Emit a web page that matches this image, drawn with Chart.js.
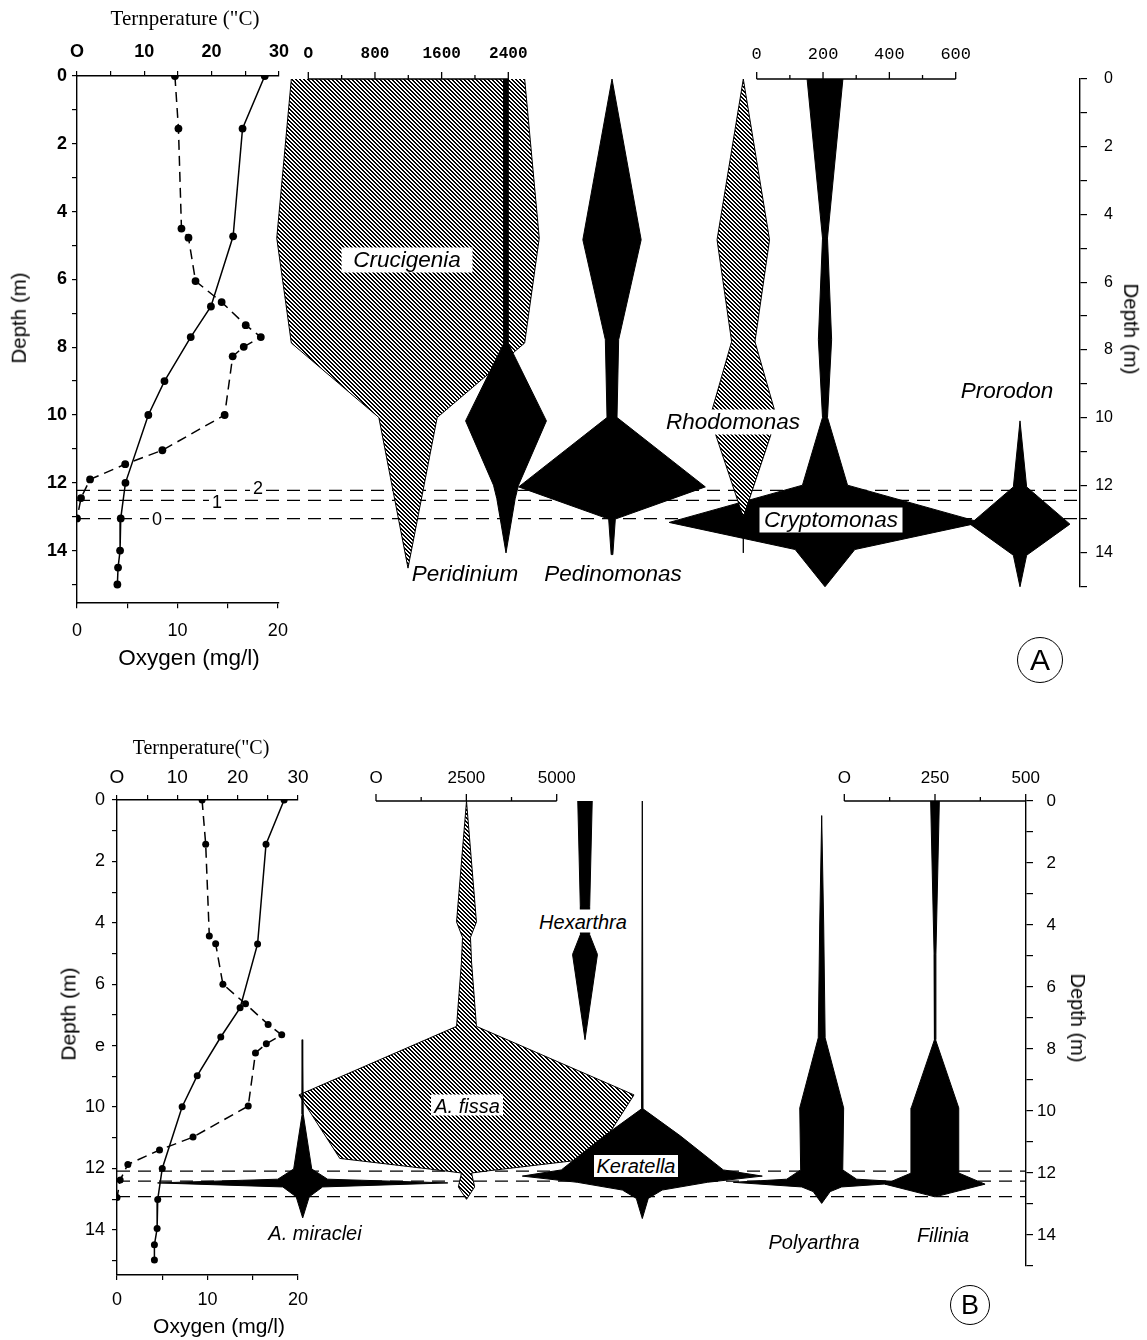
<!DOCTYPE html>
<html>
<head>
<meta charset="utf-8">
<title>Depth profiles and kite diagrams</title>
<script src="https://cdn.jsdelivr.net/npm/chart.js@4.4.1/dist/chart.umd.min.js"></script>
<style>
  body { margin: 0; background: #fff; }
  #page { position: relative; width: 1147px; height: 1340px; overflow: hidden; background: #fff;
          font-family: "Liberation Sans", Arial, sans-serif; color: #000; }
  #page canvas { position: absolute; left: 0; }
  .sp { position: absolute; transform: translate(-50%, -50%); font-style: italic; white-space: nowrap;
        line-height: 1; text-align: center; }
  .box { background: #fff; display: flex; align-items: center; justify-content: center; }
  .ttl { position: absolute; transform: translate(-50%, -50%); white-space: nowrap; line-height: 1; }
  .serif { font-family: "Liberation Serif", "Times New Roman", serif; }
  .rl { transform: translate(-50%, -50%) rotate(-90deg); }
  .rr { transform: translate(-50%, -50%) rotate(90deg); }
  .iso { position: absolute; transform: translate(-50%, -50%); background: #fff; font-size: 18px;
         line-height: 1; padding: 0 3px; }
  .tag { position: absolute; border: 1.6px solid #000; border-radius: 50%; box-sizing: border-box;
         display: flex; align-items: center; justify-content: center; transform: translate(-50%, -50%); }
</style>
</head>
<body>
<div id="page">
  <canvas id="profA" width="300" height="700" style="top:0"></canvas>
  <canvas id="kiteA" width="1147" height="700" style="top:0"></canvas>
  <canvas id="profB" width="320" height="620" style="top:720px"></canvas>
  <canvas id="kiteB" width="1147" height="620" style="top:720px"></canvas>

  <!-- panel A axis titles -->
  <div class="ttl serif" style="left:185px;top:18px;font-size:21px">Ternperature ("C)</div>
  <div class="ttl" style="left:189px;top:658px;font-size:22.5px">Oxygen (mg/l)</div>
  <div class="ttl rl" style="left:19px;top:318px;font-size:20.5px">Depth (m)</div>
  <div class="ttl rr" style="left:1131px;top:329px;font-size:20.5px">Depth (m)</div>

  <!-- panel A species labels -->
  <div class="sp box" style="left:407px;top:260px;width:131px;height:25px;font-size:22.5px">Crucigenia</div>
  <div class="sp" style="left:465px;top:574px;font-size:22.5px">Peridinium</div>
  <div class="sp" style="left:613px;top:574px;font-size:22.5px">Pedinomonas</div>
  <div class="sp box" style="left:733px;top:422px;width:134px;height:25px;font-size:22.5px">Rhodomonas</div>
  <div class="sp box" style="left:831px;top:520px;width:143px;height:25px;font-size:22.5px">Cryptomonas</div>
  <div class="sp" style="left:1007px;top:391px;font-size:22.5px">Prorodon</div>
  <div class="iso" style="left:258px;top:488px">2</div>
  <div class="iso" style="left:217px;top:502px">1</div>
  <div class="iso" style="left:157px;top:519px">0</div>
  <div class="tag" style="left:1040px;top:660px;width:46px;height:46px;font-size:30px">A</div>

  <!-- panel B axis titles -->
  <div class="ttl serif" style="left:201px;top:747px;font-size:20px">Ternperature("C)</div>
  <div class="ttl" style="left:219px;top:1325px;font-size:21px">Oxygen (mg/l)</div>
  <div class="ttl rl" style="left:68px;top:1014px;font-size:21px">Depth (m)</div>
  <div class="ttl rr" style="left:1078px;top:1018px;font-size:20px">Depth (m)</div>

  <!-- panel B species labels -->
  <div class="sp" style="left:315px;top:1233px;font-size:20px">A. miraclei</div>
  <div class="sp box" style="left:467px;top:1105px;width:72px;height:21px;font-size:20px">A. fissa</div>
  <div class="sp box" style="left:583px;top:921px;width:88px;height:23px;font-size:20px">Hexarthra</div>
  <div class="sp box" style="left:636px;top:1166px;width:84px;height:22px;font-size:20px">Keratella</div>
  <div class="sp" style="left:814px;top:1242px;font-size:20px">Polyarthra</div>
  <div class="sp" style="left:943px;top:1235px;font-size:20px">Filinia</div>
  <div class="tag" style="left:970px;top:1305px;width:40px;height:40px;font-size:27px">B</div>
</div>

<script>
// ---------------- Panel A : temperature / oxygen profiles ----------------
const depthTempA = [0, 1.55, 4.73, 6.8, 7.7, 9.0, 10.0, 12.0, 13.05, 14.0, 14.5, 15.0];
const tempA      = [27.9, 24.6, 23.2, 19.9, 16.9, 13.0, 10.6, 7.2, 6.5, 6.4, 6.1, 6.0];
const depthOxyA  = [0, 1.55, 4.5, 4.77, 6.05, 6.67, 7.35, 7.7, 7.99, 8.27, 10.0, 11.04, 11.45, 11.9, 12.45, 13.05];
const oxyA       = [9.75, 10.1, 10.4, 11.1, 11.8, 14.4, 16.8, 18.3, 16.6, 15.5, 14.7, 8.5, 4.8, 1.3, 0.4, 0];
const isolinesA  = [12.15, 12.45, 12.99];

// ---------------- Panel A : kites (cells) ----------------
const crucigeniaDepth  = [0, 4.7, 7.8, 10.0, 14.45];
const crucigeniaCells  = [2800, 3150, 2800, 700, 0];
const peridiniumDepth  = [0, 7.8, 10.1, 12.0, 12.4, 14.0];
const peridiniumCells  = [55, 50, 970, 300, 220, 0];
const pedinomonasDepth = [0, 4.75, 7.7, 10.0, 12.05, 13.0, 14.05];
const pedinomonasCells = [0, 700, 160, 120, 2240, 80, 20];
const rhodomonasDepth  = [0, 4.75, 7.76, 10.0, 12.95, 14.0];
const rhodomonasCells  = [0, 630, 280, 800, 0, 0];
const cryptomonasDepth = [0, 4.7, 7.7, 10.0, 12.0, 13.1, 13.9, 15.0];
const cryptomonasCells = [108, 15, 40, 15, 136, 940, 180, 0];
const prorodonDepth    = [10.1, 12.05, 13.15, 14.07, 15.0];
const prorodonCells    = [0, 40, 301, 40, 0];

// ---------------- Panel B : temperature / oxygen profiles ----------------
const depthTempB = [0, 1.44, 4.69, 6.77, 7.72, 8.98, 9.99, 12.0, 13.01, 13.96, 14.49, 14.98];
const tempB      = [27.7, 24.7, 23.3, 20.4, 17.2, 13.3, 10.8, 7.5, 6.75, 6.65, 6.2, 6.2];
const depthOxyB  = [0, 1.44, 4.43, 4.68, 6.0, 6.64, 7.31, 7.65, 7.94, 8.24, 9.97, 10.98, 11.4, 11.87, 12.38, 12.95];
const oxyB       = [9.4, 9.8, 10.2, 10.9, 11.7, 14.2, 16.7, 18.2, 16.5, 15.3, 14.5, 8.4, 4.7, 1.2, 0.35, 0];
const isolinesB  = [11.94, 12.26, 12.76];

// ---------------- Panel B : kites (individuals) ----------------
const miracleiDepth   = [7.7, 10.1, 11.87, 12.2, 12.32, 12.45, 12.77, 13.45];
const miracleiInd     = [0, 30, 500, 1380, 8030, 1100, 360, 0];
const fissaDepth      = [0, 3.9, 4.4, 5.2, 7.27, 9.48, 11.53, 11.93, 12.0, 12.45, 12.85];
const fissaInd        = [0, 550, 220, 280, 550, 9270, 7010, 1200, 280, 450, 0];
const hexarthraDepth  = [0, 3.4, 4.3, 4.95, 7.7];
const hexarthraInd    = [400, 260, 250, 690, 0];
const keratellaDepth  = [0, 9.93, 10.8, 11.9, 12.1, 12.3, 12.55, 12.82, 13.47];
const keratellaInd    = [0, 40, 2100, 4480, 6640, 3600, 1100, 330, 0];
const polyarthraDepth = [0.47, 4.0, 7.64, 9.9, 11.9, 12.2, 12.3, 12.45, 12.6, 12.98];
const polyarthraInd   = [0, 11, 19, 121, 116, 193, 487, 110, 47, 0];
const filiniaDepth    = [0, 4.94, 7.7, 9.9, 12.0, 12.36, 12.77];
const filiniaInd      = [24, 5, 3, 131, 131, 276, 0];

// ---------------- tick labels ----------------
const depthTicks     = [0, 1, 2, 3, 4, 5, 6, 7, 8, 9, 10, 11, 12, 13, 14, 15];
const depthLabelsA   = ['0', '2', '4', '6', '8', '10', '12', '14'];
const depthLabelsB   = ['0', '2', '4', '6', 'e', '10', '12', '14'];
const depthLabelsBr  = ['0', '2', '4', '6', '8', '10', '12', '14'];
const tempTicks      = [0, 5, 10, 15, 20, 25, 30];
const tempLabels     = ['O', '', '10', '', '20', '', '30'];
const oxyTicks       = [0, 5, 10, 15, 20];
const oxyLabels      = ['0', '', '10', '', '20'];
const scaleA1Ticks   = [0, 400, 800, 1200, 1600, 2000, 2400];
const scaleA1Labels  = ['O', '', '800', '', '1600', '', '2400'];
const scaleA2Ticks   = [0, 100, 200, 300, 400, 500, 600];
const scaleA2Labels  = ['0', '', '200', '', '400', '', '600'];
const scaleB1Ticks   = [0, 1250, 2500, 3750, 5000];
const scaleB1Labels  = ['O', '', '2500', '', '5000'];
const scaleB2Ticks   = [0, 125, 250, 375, 500];
const scaleB2Labels  = ['O', '', '250', '', '500'];

// ---------------- helpers ----------------
function makeHatch() {
  // crisp "\" stripes, 4 px period
  const c = document.createElement('canvas');
  c.width = 4; c.height = 4;
  const g = c.getContext('2d');
  g.fillStyle = '#fff';
  g.fillRect(0, 0, 4, 4);
  g.fillStyle = '#000';
  for (let y = 0; y < 4; y++) {
    for (let x = 0; x < 4; x++) {
      if ((x - y + 4) % 4 < 2) g.fillRect(x, y, 1, 1);
    }
  }
  return g.createPattern(c, 'repeat');
}
const hatch = makeHatch();

function fixSize(prop, v) {
  return s => { s[prop] = v; };
}
function setTicks(values) {
  return s => { s.ticks = values.map(v => ({ value: v })); };
}

const axisGrid = { drawOnChartArea: false, color: '#000', tickLength: 5, lineWidth: 1.2 };
const axisBorder = { display: true, color: '#000', width: 1.4 };

// scale bars at the top of the kite panels, drawn through the hidden x scales
const scaleBarPlugin = {
  id: 'scaleBars',
  afterDraw(chart, args, opts) {
    const ctx = chart.ctx;
    const y0 = chart.scales.y.getPixelForValue(0);
    opts.bars.forEach(bar => {
      const sc = chart.scales[bar.axis];
      const xs = bar.ticks.map(v => sc.getPixelForValue(v));
      ctx.save();
      ctx.strokeStyle = '#000';
      ctx.lineWidth = 1.3;
      ctx.beginPath();
      ctx.moveTo(xs[0], y0);
      ctx.lineTo(xs[xs.length - 1], y0);
      xs.forEach((x, i) => {
        ctx.moveTo(x, y0);
        ctx.lineTo(x, y0 - (bar.labels[i] ? 7 : 4));
      });
      ctx.stroke();
      ctx.fillStyle = '#000';
      ctx.font = bar.font;
      ctx.textAlign = 'center';
      ctx.textBaseline = 'middle';
      xs.forEach((x, i) => {
        if (bar.labels[i]) ctx.fillText(bar.labels[i], x, y0 - bar.gap);
      });
      ctx.restore();
    });
  }
};

function profileChart(id, p) {
  const pxPerM = p.pxPerM;
  return new Chart(document.getElementById(id), {
    type: 'line',
    data: {
      datasets: [
        {
          data: p.tempDepth.map((d, i) => ({ x: p.temp[i], y: d })),
          xAxisID: 'xt', yAxisID: 'y',
          borderColor: '#000', borderWidth: 1.5, tension: 0, fill: false,
          pointRadius: p.dot, pointBackgroundColor: '#000', pointBorderWidth: 0
        },
        {
          data: p.oxyDepth.map((d, i) => ({ x: p.oxy[i], y: d })),
          xAxisID: 'xo', yAxisID: 'y',
          borderColor: '#000', borderWidth: 1.5, borderDash: [10, 6], tension: 0, fill: false,
          pointRadius: p.dot, pointBackgroundColor: '#000', pointBorderWidth: 0
        }
      ]
    },
    options: {
      responsive: false, animation: false, events: [],
      layout: { padding: { left: 0, top: 0, bottom: 0, right: p.padRight } },
      plugins: { legend: { display: false }, tooltip: { enabled: false } },
      scales: {
        xt: {
          type: 'linear', axis: 'x', position: 'top', min: 0, max: 30,
          afterBuildTicks: setTicks(tempTicks), afterFit: fixSize('height', p.top),
          grid: axisGrid, border: axisBorder,
          ticks: { autoSkip: false, maxRotation: 0, padding: p.tempPad, color: '#000',
                   font: p.tempFont, callback: (v, i) => tempLabels[i] }
        },
        xo: {
          type: 'linear', axis: 'x', position: 'bottom', min: 0, max: p.oxyMax,
          afterBuildTicks: setTicks(oxyTicks), afterFit: fixSize('height', p.height - p.top - p.maxDepth * pxPerM),
          grid: axisGrid, border: axisBorder,
          ticks: { autoSkip: false, maxRotation: 0, padding: p.oxyPad, color: '#000',
                   font: { size: 18 }, callback: (v, i) => oxyLabels[i] }
        },
        y: {
          type: 'linear', position: 'left', reverse: true, min: 0, max: p.maxDepth,
          afterBuildTicks: setTicks(depthTicks), afterFit: fixSize('width', p.left),
          grid: axisGrid, border: axisBorder,
          ticks: { autoSkip: false, padding: p.depthPad, color: '#000', font: p.depthFont,
                   callback: v => (v % 2 === 0 ? p.depthLabels[v / 2] : '') }
        }
      }
    }
  });
}

function kiteSet(depths, values, centerPx, bar, fill, order) {
  const c = (centerPx - bar.px0) / bar.ppu;
  const left = depths.map((d, i) => ({ x: c - values[i] / 2, y: d }));
  const right = depths.map((d, i) => ({ x: c + values[i] / 2, y: d })).reverse();
  return {
    data: left.concat(right), xAxisID: bar.axis, yAxisID: 'y',
    borderColor: '#000', borderWidth: 1, backgroundColor: fill,
    fill: 'shape', pointRadius: 0, tension: 0, clip: false, order: order
  };
}

function kiteChart(id, k) {
  // right axis box ends where the (right-aligned) tick labels end
  const scales = {
    xf: { type: 'linear', axis: 'x', display: false, min: 0, max: 1 },
    y: {
      type: 'linear', position: 'right', reverse: true, min: 0, max: 15,
      afterBuildTicks: setTicks(depthTicks), afterFit: fixSize('width', k.labelRight - k.right),
      grid: { drawOnChartArea: false, color: '#000', tickLength: 7, lineWidth: 1.2 },
      border: axisBorder,
      ticks: { autoSkip: false, padding: 2, crossAlign: 'far', color: '#000',
               font: { size: k.depthSize },
               callback: v => (v % 2 === 0 ? k.depthLabels[v / 2] : '') }
    }
  };
  k.bars.forEach(b => {
    b.ppu = (b.px1 - b.px0) / b.ticks[b.ticks.length - 1];
    scales[b.axis] = { type: 'linear', axis: 'x', display: false,
                       min: (k.left - b.px0) / b.ppu, max: (k.right - b.px0) / b.ppu };
  });
  const lines = k.isolines.map(d => ({
    data: [{ x: 0, y: d }, { x: 1, y: d }], xAxisID: 'xf', yAxisID: 'y',
    borderColor: '#000', borderWidth: 1.3, borderDash: [13, 8], pointRadius: 0, fill: false, order: 50
  }));
  return new Chart(document.getElementById(id), {
    type: 'line',
    data: { datasets: k.kites(k.bars).concat(lines) },
    options: {
      responsive: false, animation: false, events: [],
      layout: { padding: { left: k.left, top: k.top, bottom: k.height - k.top - 15 * k.pxPerM,
                           right: 1147 - k.labelRight } },
      plugins: { legend: { display: false }, tooltip: { enabled: false }, scaleBars: { bars: k.bars } },
      scales: scales
    },
    plugins: [scaleBarPlugin]
  });
}

// ---------------- Panel A ----------------
profileChart('profA', {
  tempDepth: depthTempA, temp: tempA, oxyDepth: depthOxyA, oxy: oxyA,
  height: 700, left: 77, top: 76, pxPerM: 33.9, maxDepth: 15.55, padRight: 21, oxyMax: 20.1, dot: 3.9,
  tempPad: 8.5, oxyPad: 12, tempFont: { size: 18, weight: 'bold' },
  depthFont: { size: 18, weight: 'bold' }, depthPad: 5, depthLabels: depthLabelsA
});

kiteChart('kiteA', {
  height: 700, left: 77, right: 1080, labelRight: 1113, top: 79, pxPerM: 33.85,
  depthSize: 16, depthLabels: depthLabelsA,
  isolines: isolinesA,
  bars: [
    { axis: 'x1', px0: 308.3, px1: 508.3, ticks: scaleA1Ticks, labels: scaleA1Labels, gap: 25,
      font: 'bold 16px "Liberation Mono", monospace' },
    { axis: 'x2', px0: 756.7, px1: 955.7, ticks: scaleA2Ticks, labels: scaleA2Labels, gap: 25,
      font: '17px "Liberation Mono", monospace' }
  ],
  kites: b => [
    kiteSet(peridiniumDepth, peridiniumCells, 506, b[0], '#000', 1),
    kiteSet(pedinomonasDepth, pedinomonasCells, 612, b[0], '#000', 1),
    kiteSet(rhodomonasDepth, rhodomonasCells, 743.3, b[0], hatch, 1),
    kiteSet(cryptomonasDepth, cryptomonasCells, 825, b[1], '#000', 2),
    kiteSet(prorodonDepth, prorodonCells, 1020, b[1], '#000', 1),
    kiteSet(crucigeniaDepth, crucigeniaCells, 408, b[0], hatch, 5)
  ]
});

// ---------------- Panel B ----------------
profileChart('profB', {
  tempDepth: depthTempB, temp: tempB, oxyDepth: depthOxyB, oxy: oxyB,
  height: 620, left: 117, top: 80, pxPerM: 30.7, maxDepth: 15.47, padRight: 22, oxyMax: 20, dot: 3.5,
  tempPad: 6, oxyPad: 9, tempFont: { size: 19 },
  depthFont: { size: 18 }, depthPad: 7, depthLabels: depthLabelsB
});

kiteChart('kiteB', {
  height: 620, left: 117, right: 1026, labelRight: 1056, top: 81, pxPerM: 31.0,
  depthSize: 17, depthLabels: depthLabelsBr,
  isolines: isolinesB,
  bars: [
    { axis: 'x1', px0: 376, px1: 556.7, ticks: scaleB1Ticks, labels: scaleB1Labels, gap: 23,
      font: '17px "Liberation Sans", Arial, sans-serif' },
    { axis: 'x2', px0: 844.3, px1: 1025.7, ticks: scaleB2Ticks, labels: scaleB2Labels, gap: 23,
      font: '17px "Liberation Sans", Arial, sans-serif' }
  ],
  kites: b => [
    kiteSet(miracleiDepth, miracleiInd, 302.7, b[0], '#000', 1),
    kiteSet(keratellaDepth, keratellaInd, 642.3, b[0], '#000', 1),
    kiteSet(hexarthraDepth, hexarthraInd, 585, b[0], '#000', 1),
    kiteSet(polyarthraDepth, polyarthraInd, 821.7, b[1], '#000', 1),
    kiteSet(filiniaDepth, filiniaInd, 935, b[1], '#000', 1),
    kiteSet(fissaDepth, fissaInd, 466.5, b[0], hatch, 5)
  ]
});
</script>
</body>
</html>
